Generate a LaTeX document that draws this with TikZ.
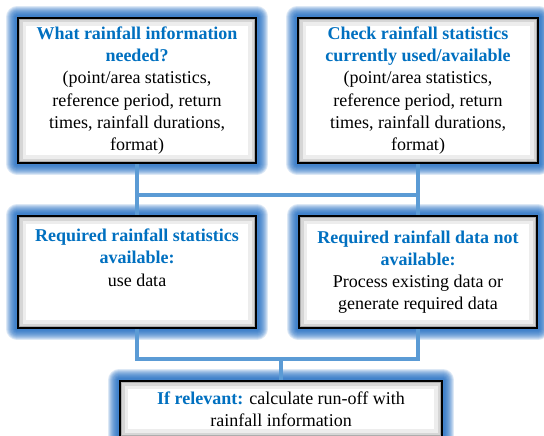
\documentclass[tikz,border=0pt]{standalone}
\usepackage{fontspec}
\setmainfont{Liberation Serif}
\usetikzlibrary{backgrounds}
\definecolor{headblue}{HTML}{0070C0}
\definecolor{glowblue}{HTML}{1464BE}
\definecolor{linkblue}{HTML}{5B9BD5}
\newcommand{\head}[1]{{\bfseries\color{headblue}#1}}
\begin{document}
\begin{tikzpicture}[x=1pt,y=-1pt,
    infobox/.style={draw=black, line width=1.6pt, fill=white, align=center,
      inner sep=0pt, font=\fontsize{18}{22.2}\selectfont,
      path picture={
        \draw[black!7, line width=16pt] (path picture bounding box.south west) rectangle (path picture bounding box.north east);
        \draw[black!16, line width=9pt] (path picture bounding box.south west) rectangle (path picture bounding box.north east);
        \draw[black!32, line width=4pt] (path picture bounding box.south west) rectangle (path picture bounding box.north east);
      }},
    glow/.style={draw=glowblue, opacity=.15, line join=round},
    link/.style={draw=linkblue, line width=4pt}]
  \useasboundingbox (0,0) rectangle (544,436);

  \node[infobox, minimum width=238pt, minimum height=145pt] (what) at (137,90.5)
    {\head{What rainfall information}\\ \head{needed?}\\ (point/area statistics,\\ reference period, return\\ times, rainfall durations,\\ format)};
  \node[infobox, minimum width=240pt, minimum height=145pt] (check) at (418,90.5)
    {\head{Check rainfall statistics}\\ \head{currently used/available}\\ (point/area statistics,\\ reference period, return\\ times, rainfall durations,\\ format)};

  \node[infobox, minimum width=238pt, minimum height=112pt] (avail) at (137,272)
    {\head{Required rainfall statistics}\\ \head{available:}\\ use data\\ \strut};
  \node[infobox, minimum width=238pt, minimum height=112pt] (notavail) at (418,272)
    {\head{Required rainfall data not}\\ \head{available:}\\ Process existing data or\\ generate required data};

  \node[infobox, minimum width=322pt, minimum height=56pt] (runoff) at (281,409)
    {\head{If relevant:} calculate run-off with\\ rainfall information};

  \begin{scope}[on background layer]
    \foreach \n in {what,check,avail,notavail,runoff}
      \foreach \w in {4,6,...,22}
        \draw[glow, line width=\w pt] (\n.south west) rectangle (\n.north east);
  \end{scope}

  \coordinate (bustop) at (137,195);
  \coordinate (busbot) at (137,359);

  \draw[link] (what.south) -- (bustop) -- (check.south |- bustop) -- (check.south);
  \draw[link] (bustop) -- (avail.north);
  \draw[link] (check.south |- bustop) -- (notavail.north);
  \draw[link] (avail.south) -- (busbot) -- (notavail.south |- busbot) -- (notavail.south);
  \draw[link] (runoff.north |- busbot) -- (runoff.north);
\end{tikzpicture}
\end{document}
